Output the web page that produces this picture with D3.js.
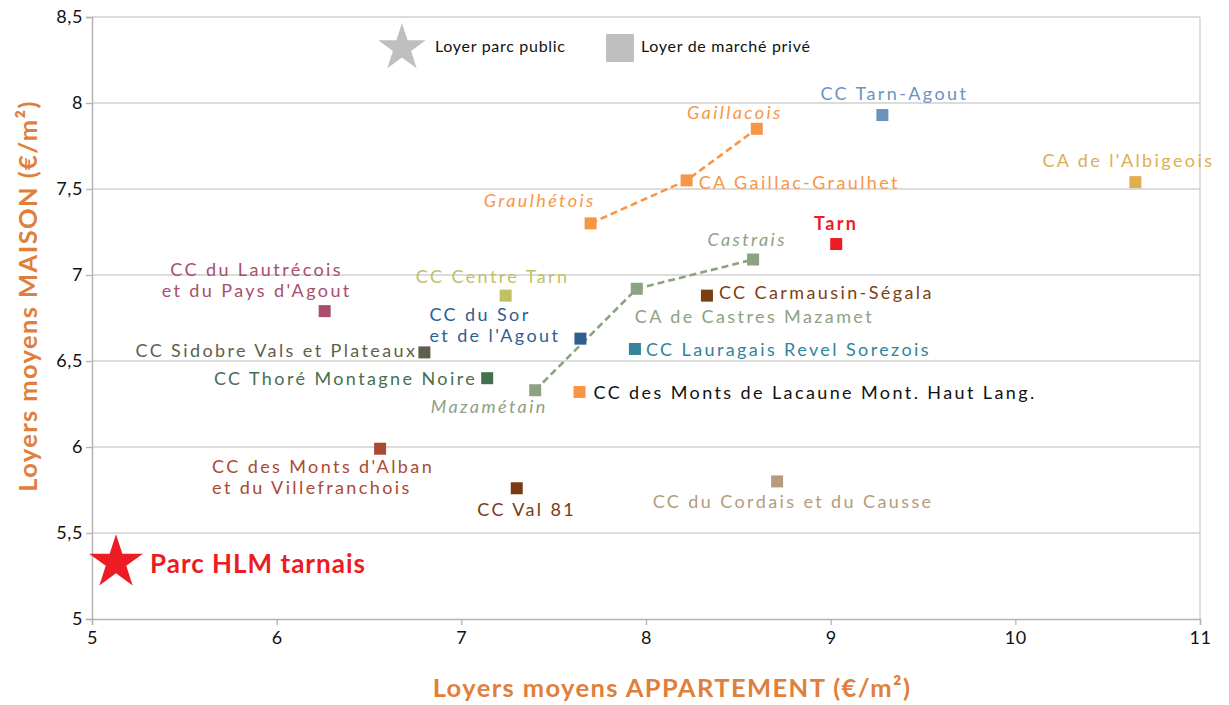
<!DOCTYPE html>
<html>
<head>
<meta charset="utf-8">
<script src="https://cdn.jsdelivr.net/npm/d3@7"></script>
<style>
  body { margin: 0; background: #fff; }
  svg text { font-family: Lato, "Noto Sans", sans-serif; }
</style>
</head>
<body>
<div id="chart"></div>
<script>
'use strict';

// territoires (EPCI + Tarn), loyers moyens en €/m²
var names = [
    'Gaillacois', 'CA Gaillac-Graulhet', 'Graulhétois', 'CC Tarn-Agout',
    "CA de l'Albigeois", 'Tarn', 'Castrais', 'CA de Castres Mazamet',
    'CC Carmausin-Ségala', "CC du Sor\net de l'Agout", 'CC Lauragais Revel Sorezois',
    'CC des Monts de Lacaune Mont. Haut Lang.', 'Mazamétain', 'CC Thoré Montagne Noire',
    'CC Sidobre Vals et Plateaux', "CC du Lautrécois\net du Pays d'Agout", 'CC Centre Tarn',
    "CC des Monts d'Alban\net du Villefranchois", 'CC Val 81', 'CC du Cordais et du Causse'
];
var appartement = [8.60, 8.22, 7.70, 9.28, 10.65, 9.03, 8.58, 7.95, 8.33, 7.645, 7.94,
    7.64, 7.40, 7.14, 6.80, 6.26, 7.24, 6.56, 7.30, 8.71];
var maison = [7.85, 7.55, 7.30, 7.93, 7.54, 7.18, 7.09, 6.92, 6.88, 6.63, 6.57,
    6.32, 6.33, 6.40, 6.55, 6.79, 6.88, 5.99, 5.76, 5.80];

// parc public
var hlmLabel = 'Parc HLM tarnais';
var hlmAppartement = 5.13;
var hlmMaison = 5.34;

// pôles reliés en pointillés
var groupGaillac = ['Graulhétois', 'CA Gaillac-Graulhet', 'Gaillacois'];
var groupCastres = ['Mazamétain', 'CA de Castres Mazamet', 'Castrais'];

var xTicks = [5, 6, 7, 8, 9, 10, 11];
var yTicks = [5, 5.5, 6, 6.5, 7, 7.5, 8, 8.5];

// couleur, style et placement des étiquettes
var styles = {
    'Gaillacois': { c: '#f79646', lc: '#f79646', it: true, dx: -22, dy: -10, a: 'middle' },
    'CA Gaillac-Graulhet': { c: '#f79646', lc: '#f79646', dx: 12, dy: 9, a: 'start' },
    'Graulhétois': { c: '#f79646', lc: '#f79646', it: true, dx: 5, dy: -16, a: 'end' },
    'CC Tarn-Agout': { c: '#6a93c0', lc: '#6a93c0', dx: 12, dy: -15, a: 'middle' },
    "CA de l'Albigeois": { c: '#ddae52', lc: '#ddae52', dx: -7, dy: -15, a: 'middle' },
    'Tarn': { c: '#ed1c24', lc: '#ed1c24', bold: true, dx: 0, dy: -14, a: 'middle' },
    'Castrais': { c: '#8ca283', lc: '#8ca283', it: true, dx: -6, dy: -14, a: 'middle' },
    'CA de Castres Mazamet': { c: '#8ca283', lc: '#8ca283', dx: -2, dy: 34, a: 'start' },
    'CC Carmausin-Ségala': { c: '#7b3f14', lc: '#7b3f14', dx: 12, dy: 3, a: 'start' },
    "CC du Sor\net de l'Agout": { c: '#2f5f91', lc: '#2f5f91', dx: -151, dy: -18, a: 'start' },
    'CC Lauragais Revel Sorezois': { c: '#31849b', lc: '#31849b', dx: 11, dy: 7, a: 'start' },
    'CC des Monts de Lacaune Mont. Haut Lang.': { c: '#f79646', lc: '#111111', dx: 14, dy: 7, a: 'start' },
    'Mazamétain': { c: '#8ca283', lc: '#8ca283', it: true, dx: -46, dy: 23, a: 'middle' },
    'CC Thoré Montagne Noire': { c: '#44704f', lc: '#44704f', dx: -10, dy: 7, a: 'end' },
    'CC Sidobre Vals et Plateaux': { c: '#5f5f4b', lc: '#5f5f4b', dx: -7, dy: 5, a: 'end' },
    "CC du Lautrécois\net du Pays d'Agout": { c: '#a84e6c', lc: '#a84e6c', dx: -68, dy: -35, a: 'middle' },
    'CC Centre Tarn': { c: '#c0c064', lc: '#c0c064', dx: -13, dy: -13, a: 'middle' },
    "CC des Monts d'Alban\net du Villefranchois": { c: '#a94a34', lc: '#a94a34', dx: -168, dy: 24, a: 'start' },
    'CC Val 81': { c: '#7a3a14', lc: '#7a3a14', dx: 10, dy: 28, a: 'middle' },
    'CC du Cordais et du Causse': { c: '#b59c7c', lc: '#b59c7c', dx: 16, dy: 27, a: 'middle' }
};

var data = names.map(function(n, i) {
    return { name: n, x: appartement[i], y: maison[i] };
});

function byName(n) {
    for (var i = 0; i < data.length; i++) {
        if (data[i].name === n) return data[i];
    }
}

(function(d3) {
    var width = 1229;
    var height = 705;
    var margin = { top: 17, right: 29, bottom: 86, left: 92 };

    var svg = d3.select('#chart').append('svg')
        .attr('width', width)
        .attr('height', height);

    var x = d3.scaleLinear().domain([5, 11]).range([margin.left, width - margin.right]);
    var y = d3.scaleLinear().domain([5, 8.5]).range([height - margin.bottom, margin.top]);

    var fmt = function(d) { return String(d).replace('.', ','); };

    // grille horizontale
    svg.append('g').selectAll('line')
        .data(yTicks.slice(1))
        .enter().append('line')
        .attr('x1', x(5)).attr('x2', x(11))
        .attr('y1', function(d) { return y(d); })
        .attr('y2', function(d) { return y(d); })
        .attr('stroke', '#d0d0d0').attr('stroke-width', 1.3);

    // bord droit
    svg.append('line')
        .attr('x1', x(11)).attr('x2', x(11))
        .attr('y1', y(8.5)).attr('y2', y(5))
        .attr('stroke', '#d0d0d0').attr('stroke-width', 1.3);

    var xAxis = svg.append('g')
        .attr('transform', 'translate(0,' + y(5) + ')')
        .call(d3.axisBottom(x).tickValues(xTicks).tickFormat(fmt).tickSize(6).tickPadding(6));
    var yAxis = svg.append('g')
        .attr('transform', 'translate(' + x(5) + ',0)')
        .call(d3.axisLeft(y).tickValues(yTicks).tickFormat(fmt).tickSize(6).tickPadding(3));

    [xAxis, yAxis].forEach(function(ax) {
        ax.select('.domain').attr('stroke', '#b4b4b4').attr('stroke-width', 1.5);
        ax.selectAll('.tick line').attr('stroke', '#b4b4b4').attr('stroke-width', 1.3);
        ax.selectAll('.tick text').attr('fill', '#111')
            .style('font-size', '18px').style('letter-spacing', '0.6px');
    });

    // titres des axes
    svg.append('text')
        .attr('x', 672)
        .attr('y', 697)
        .attr('text-anchor', 'middle')
        .attr('fill', '#e07f3c')
        .style('font-size', '25.5px').style('font-weight', 'bold').style('letter-spacing', '1.4px')
        .text('Loyers moyens APPARTEMENT (€/m²)');
    svg.append('text')
        .attr('transform', 'translate(37,296) rotate(-90)')
        .attr('text-anchor', 'middle')
        .attr('fill', '#e07f3c')
        .style('font-size', '25.5px').style('font-weight', 'bold').style('letter-spacing', '1.4px')
        .text('Loyers moyens MAISON (€/m²)');

    // lignes pointillées
    var line = d3.line()
        .x(function(d) { return x(d.x); })
        .y(function(d) { return y(d.y); });
    [[groupGaillac, '#f79646'], [groupCastres, '#8ca283']].forEach(function(g) {
        svg.append('path')
            .datum(g[0].map(byName))
            .attr('d', line)
            .attr('fill', 'none')
            .attr('stroke', g[1])
            .attr('stroke-width', 2.6)
            .attr('stroke-dasharray', '7,4');
    });

    // points
    var sq = 12;
    svg.append('g').selectAll('rect')
        .data(data)
        .enter().append('rect')
        .attr('x', function(d) { return x(d.x) - sq / 2; })
        .attr('y', function(d) { return y(d.y) - sq / 2; })
        .attr('width', sq).attr('height', sq)
        .attr('fill', function(d) { return styles[d.name].c; });

    // étiquettes
    var labels = svg.append('g').selectAll('text')
        .data(data)
        .enter().append('text')
        .attr('x', function(d) { return x(d.x) + styles[d.name].dx; })
        .attr('y', function(d) { return y(d.y) + styles[d.name].dy; })
        .attr('text-anchor', function(d) { return styles[d.name].a; })
        .attr('fill', function(d) { return styles[d.name].lc; })
        .style('font-size', '18px')
        .style('letter-spacing', '2.4px')
        .style('font-style', function(d) { return styles[d.name].it ? 'italic' : 'normal'; })
        .style('font-weight', function(d) { return styles[d.name].bold ? 'bold' : 'normal'; });

    labels.each(function(d) {
        var t = d3.select(this);
        var parts = d.name.split('\n');
        parts.forEach(function(p, i) {
            t.append('tspan')
                .attr('x', x(d.x) + styles[d.name].dx)
                .attr('dy', i === 0 ? 0 : 21)
                .text(p);
        });
    });

    // parc HLM
    var star = d3.symbol().type(d3.symbolStar);
    svg.append('path')
        .attr('d', star.size(900)())
        .attr('transform', 'translate(' + x(hlmAppartement) + ',' + (y(hlmMaison) + 2) + ')')
        .attr('fill', '#ed1c24');
    svg.append('text')
        .attr('x', x(hlmAppartement) + 34)
        .attr('y', y(hlmMaison) + 12)
        .attr('fill', '#ed1c24')
        .style('font-size', '26px').style('font-weight', 'bold').style('letter-spacing', '1px')
        .text(hlmLabel);

    // légende
    var legend = svg.append('g');
    legend.append('path')
        .attr('d', star.size(700)())
        .attr('transform', 'translate(402,48)')
        .attr('fill', '#bfbfbf');
    legend.append('text')
        .attr('x', 435).attr('y', 52)
        .attr('fill', '#111')
        .style('font-size', '16px').style('letter-spacing', '0.7px')
        .text('Loyer parc public');
    legend.append('rect')
        .attr('x', 606).attr('y', 34)
        .attr('width', 28).attr('height', 28)
        .attr('fill', '#bfbfbf');
    legend.append('text')
        .attr('x', 641).attr('y', 52)
        .attr('fill', '#111')
        .style('font-size', '16px').style('letter-spacing', '0.7px')
        .text('Loyer de marché privé');

})(window.d3);
</script>
</body>
</html>
